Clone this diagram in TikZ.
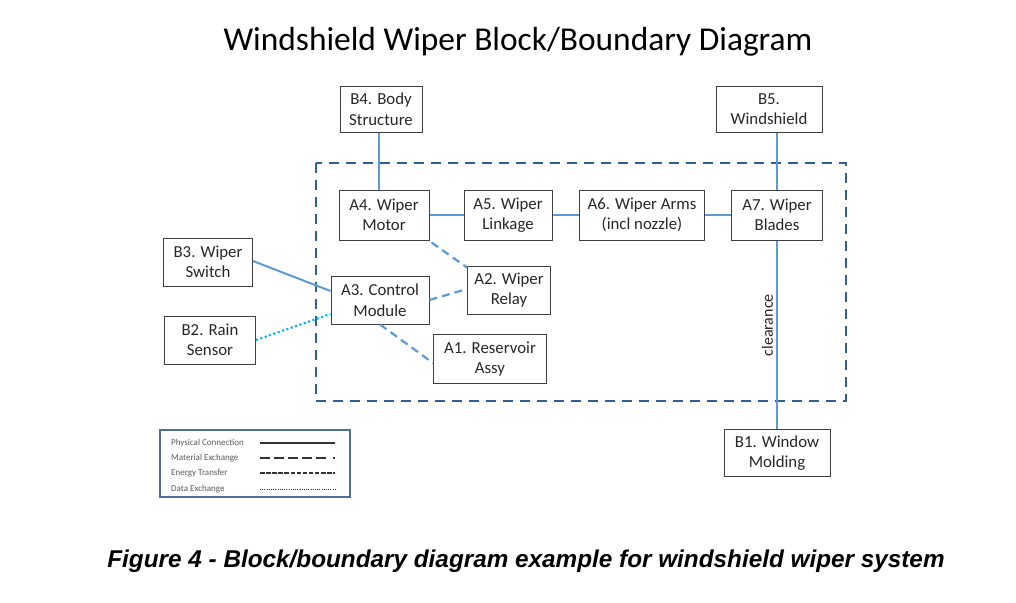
\documentclass[tikz,border=0pt]{standalone}
\usepackage{fontspec}
\setmainfont{Carlito}
\newfontfamily\capfont{Liberation Sans}
\usetikzlibrary{positioning,calc}
\definecolor{boxgray}{RGB}{64,64,64}
\definecolor{txtgray}{RGB}{38,38,38}
\definecolor{linkblue}{RGB}{91,155,213}
\definecolor{bndblue}{RGB}{46,96,150}
\definecolor{datacyan}{RGB}{0,176,240}
\definecolor{legblue}{RGB}{80,110,155}
\tikzset{
  blk/.style={draw=boxgray, line width=1pt, inner sep=0pt, align=center,
    text=txtgray, font=\fontsize{16.8}{20.5}\selectfont},
  physln/.style={draw=linkblue, line width=2pt},
  matln/.style={draw=linkblue, line width=2.2pt, dash pattern=on 8pt off 5pt},
  dataln/.style={draw=datacyan, line width=2.2pt, dash pattern=on 2pt off 2.6pt},
  bndln/.style={draw=bndblue, line width=2.2pt, dash pattern=on 10pt off 7pt},
  legtxt/.style={anchor=west, text=black!65, font=\fontsize{9}{10}\selectfont, inner sep=0pt},
  legln/.style={draw=black!80, line width=1.3pt},
}
\begin{document}
\begin{tikzpicture}[x=1pt,y=-1pt]
    \useasboundingbox (0,0) rectangle (1016,602);
    % title
    \node[font=\fontsize{33.4}{38}\selectfont, text=black] (title) at (518,42) {Windshield Wiper Block/Boundary Diagram};
    % system boundary
    \draw[bndln] (316,163) rectangle (846,401);
    % outside blocks
    \node[blk, minimum width=82pt, minimum height=46pt] (B4) at (381,109) {B4. Body\\Structure};
    \node[blk, minimum width=106pt, minimum height=46pt] (B5) at (769,109) {B5.\\Windshield};
    \node[blk, minimum width=89pt, minimum height=48pt] (B3) at (208,262) {B3. Wiper\\Switch};
    \node[blk, minimum width=91pt, minimum height=48pt] (B2) at (210,340) {B2. Rain\\Sensor};
    \node[blk, minimum width=106pt, minimum height=47pt] (B1) at (777,453) {B1. Window\\Molding};
    % inside blocks
    \node[blk, minimum width=90pt, minimum height=50pt] (A4) at (384,215) {A4. Wiper\\Motor};
    \node[blk, minimum width=88pt, minimum height=50pt] (A5) at (508,215) {A5. Wiper\\Linkage};
    \node[blk, minimum width=125pt, minimum height=50pt] (A6) at (642,215) {A6. Wiper Arms\\(incl nozzle)};
    \node[blk, minimum width=91pt, minimum height=50pt] (A7) at (777,215) {A7. Wiper\\Blades};
    \node[blk, minimum width=98pt, minimum height=48pt] (A3) at (380,300) {A3. Control\\Module};
    \node[blk, minimum width=83pt, minimum height=48pt] (A2) at (509,290) {A2. Wiper\\Relay};
    \node[blk, minimum width=113pt, minimum height=49pt] (A1) at (490,359) {A1. Reservoir\\Assy};
    % physical connections
    \draw[physln] (A4.north -| B4.south) ++(-2,0) coordinate (a4top) -- (a4top |- B4.south);
    \draw[physln] (A7.north) -- (A7.north |- B5.south);
    \draw[physln] (A4) -- (A5);
    \draw[physln] (A5) -- (A6);
    \draw[physln] (A6) -- (A7);
    \draw[physln] (A7.south) -- node[pos=0.45, left=1pt, rotate=90, anchor=south, inner sep=2pt,
      text=txtgray, font=\fontsize{16}{18}\selectfont] {clearance} (B1.north);
    \draw[physln] ($(B3.east)+(0,-1)$) -- ($(A3.west)+(0,-9)$);
    % material exchange
    \draw[matln] ($(A4.south east)+(2,2)$) -- ($(A2.north west)+(0,2)$);
    \draw[matln] ($(A3.east)$) -- ($(A2.west)+(0,-1)$);
    \draw[matln] ($(A2.south)+(3,0)$) -- ($(A2.south)+(3,0)$ |- A1.north);
    \draw[matln] (A3.south) -- ($(A1.west)+(0,4)$);
    % data exchange
    \draw[dataln] (B2.east) -- ($(A3.west)+(0,14)$);
    % legend
    \draw[legblue, line width=1.8pt] (160,430) rectangle (350,497);
    \node[legtxt] (l1) at (171,443) {Physical Connection};
    \node[legtxt] (l2) at (171,458) {Material Exchange};
    \node[legtxt] (l3) at (171,473) {Energy Transfer};
    \node[legtxt] (l4) at (171,489) {Data Exchange};
    \draw[legln] (260,443) -- (335,443);
    \draw[legln, dash pattern=on 10pt off 4pt on 10pt off 4pt on 10pt off 4pt on 10pt off 4pt on 10pt off 7pt on 2pt off 20pt] (260,458) -- (335,458);
    \draw[legln, line width=1.1pt, dash pattern=on 4.5pt off 1.6pt] (260,473) -- (335,473);
    \draw[legln, line width=1pt, dash pattern=on 1pt off 1.2pt] (260,489) -- (335,489);
    % caption
    \node[font=\capfont\bfseries\itshape\fontsize{24.3}{28}\selectfont, text=black] (cap) at (526,561) {Figure 4 - Block/boundary diagram example for windshield wiper system};
\end{tikzpicture}
\end{document}
